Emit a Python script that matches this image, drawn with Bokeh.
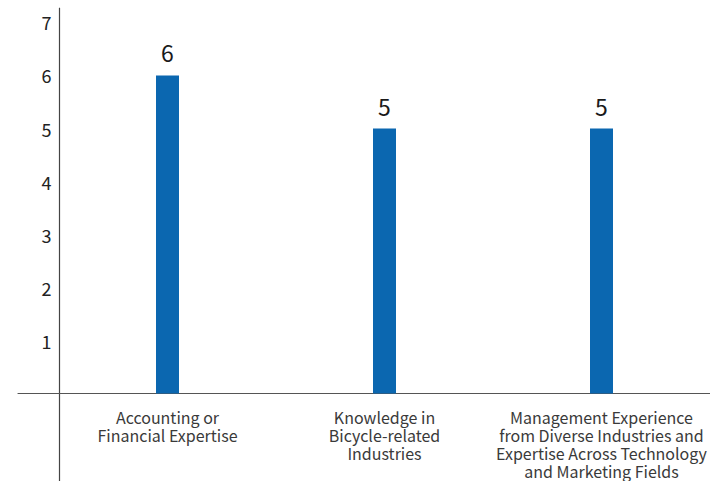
from bokeh.plotting import figure
from bokeh.models import Range1d, ColumnDataSource
from bokeh.core.properties import value
from bokeh.embed import file_html
from bokeh.resources import INLINE

categories = [
    "Accounting or\nFinancial Expertise",
    "Knowledge in\nBicycle-related\nIndustries",
    "Management Experience\nfrom Diverse Industries and\nExpertise Across Technology\nand Marketing Fields",
]
values = [6, 5, 5]
tick_values = [1, 2, 3, 4, 5, 6, 7]
tick_labels = ["1", "2", "3", "4", "5", "6", "7"]

FONT = value("Noto Sans CJK JP")
BAR = "#0b67b0"

xs = list(range(len(categories)))

p = figure(width=710, height=481, output_backend="svg", toolbar_location=None,
           x_range=Range1d(-0.7696, 2.5023), y_range=Range1d(-1.660, 7.415),
           min_border=0, outline_line_color=None)
p.xaxis.visible = False
p.yaxis.visible = False
p.grid.visible = False
p.background_fill_color = "white"
p.border_fill_color = "white"

yaxis_x = -0.4977
# axis lines
p.segment(x0=[yaxis_x], y0=[7.28], x1=[yaxis_x], y1=[-1.8], line_color="#444444", line_width=1.2)
p.segment(x0=[-0.691], y0=[0], x1=[2.6], y1=[0], line_color="#555555", line_width=1.2)

src = ColumnDataSource(dict(x=xs, top=values, lab=[str(v) for v in values], cat=categories))
p.vbar(x="x", top="top", bottom=0, width=0.106, source=src, fill_color=BAR, line_color=None)

p.text(x="x", y="top", text="lab", source=src, text_align="center", text_baseline="bottom",
       y_offset=-13, text_font=FONT, text_font_size="23px", text_color="#1a1a1a")

p.text(x="x", y=0, text="cat", source=src, text_align="center", text_baseline="top",
       y_offset=11, text_font=FONT, text_font_size="16px", text_color="#3a3a3a",
       text_line_height=0.76)

tsrc = ColumnDataSource(dict(x=[yaxis_x] * len(tick_values), y=tick_values, t=tick_labels))
p.text(x="x", y="y", text="t", source=tsrc, text_align="right", text_baseline="middle",
       x_offset=-8, y_offset=1, text_font=FONT, text_font_size="18px", text_color="#222222")

open("out.html", "w").write(file_html(p, INLINE))
